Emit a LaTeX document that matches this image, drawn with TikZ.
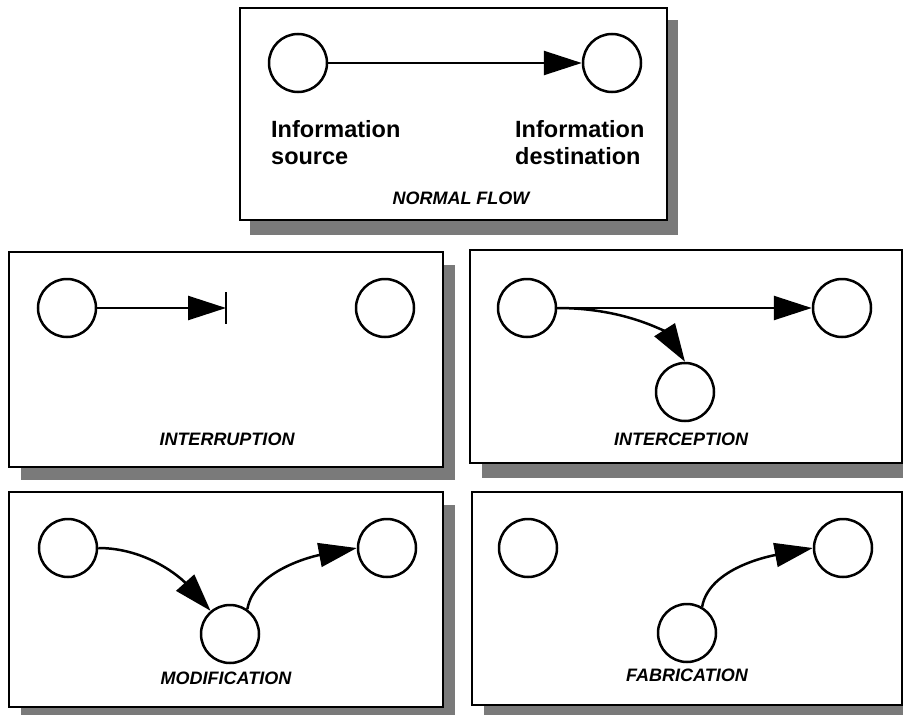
\documentclass[tikz,border=0pt]{standalone}
\usepackage{fontspec}
\setmainfont{Liberation Sans}
\usetikzlibrary{arrows.meta}
\begin{document}
\begin{tikzpicture}[x=1pt,y=-1pt,
  panel/.style={draw=black, line width=2.5pt, fill=white},
  dropshadow/.style={fill=black!52},
  site/.style={circle, draw, line width=2.5pt, minimum size=58pt, inner sep=0pt, fill=white},
  flow/.style={line width=2.5pt, -{Triangle[length=38pt 0 0,width=24pt 0 0]}},
  paneltitle/.style={font=\bfseries\itshape\fontsize{18}{20}\selectfont, inner sep=0pt},
  roletext/.style={font=\bfseries\fontsize{23.5}{27}\selectfont, align=left, anchor=west, inner sep=0pt}]
\useasboundingbox (0,0) rectangle (903,715);
\fill[white] (0,0) rectangle (903,715);

% drop shadows behind the panels
\fill[dropshadow] (250,20) rectangle (678,235);
\fill[dropshadow] (21,265) rectangle (455,480);
\fill[dropshadow] (482,263) rectangle (914,478);
\fill[dropshadow] (21,505) rectangle (455,720);
\fill[dropshadow] (484,505) rectangle (914,720);

% panels
\draw[panel] (240,8) rectangle (667,220);
\draw[panel] (9,252) rectangle (443,467);
\draw[panel] (470,250) rectangle (902,463);
\draw[panel] (9,492) rectangle (443,707);
\draw[panel] (472,492) rectangle (902,705);

% normal flow
\node[site] (src) at (298,63) {};
\node[site] (dst) at (612,63) {};
\draw[flow] (src) -- (dst);
\node[roletext] (srctext) at (271,143) {Information\\source};
\node[roletext] (dsttext) at (515,143) {Information\\destination};
\node[paneltitle] (t0) at (461,198) {NORMAL FLOW};

% interruption
\node[site] (a1) at (67,308) {};
\node[site] (b1) at (385,308) {};
\coordinate (blk) at (226,308);
\draw[flow] (a1) -- (blk);
\draw[line width=2.5pt] ([yshift=16pt]blk) -- ([yshift=-16pt]blk);
\node[paneltitle] (t1) at (227,439) {INTERRUPTION};

% interception
\node[site] (a2) at (527,308) {};
\node[site] (b2) at (842,308) {};
\node[site] (c2) at (685,392) {};
\draw[flow] (a2) -- (b2);
\draw[flow] (a2.east) .. controls (630,308) and (668,335) .. (c2.north);
\node[paneltitle] (t2) at (681,439) {INTERCEPTION};

% modification
\node[site] (a3) at (68,548) {};
\node[site] (b3) at (387,548) {};
\node[site] (c3) at (230,634) {};
\draw[flow] (a3.east) .. controls (147,548) and (181,578) .. (c3.130);
\draw[flow] (c3.55) .. controls (254,570) and (314,556) .. (b3.west);
\node[paneltitle] (t3) at (226,678) {MODIFICATION};

% fabrication
\node[site] (a4) at (528,548) {};
\node[site] (b4) at (843,548) {};
\node[site] (c4) at (687,633) {};
\draw[flow] (c4.60) .. controls (709,568) and (770,556) .. (b4.west);
\node[paneltitle] (t4) at (687,675) {FABRICATION};
\end{tikzpicture}
\end{document}
